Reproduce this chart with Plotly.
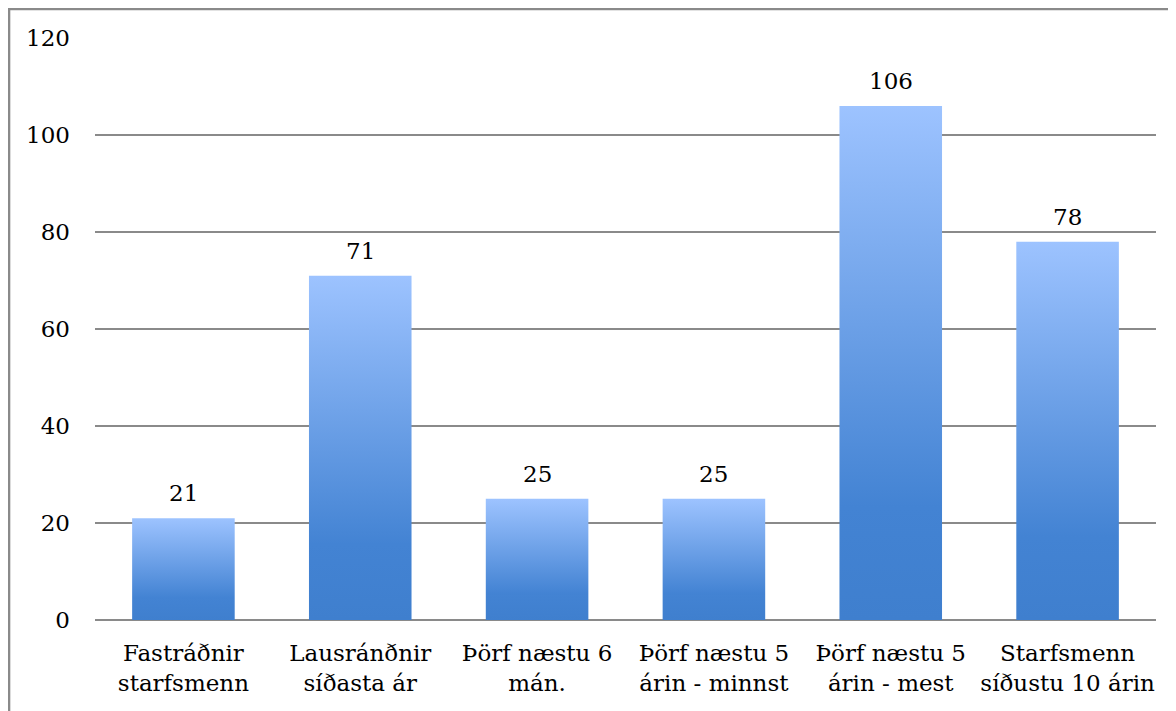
import plotly.graph_objs as go

categorias = [
    "Fastráðnir<br>starfsmenn",
    "Lausránðnir<br>síðasta ár",
    "Þörf næstu 6<br>mán.",
    "Þörf næstu 5<br>árin - minnst",
    "Þörf næstu 5<br>árin - mest",
    "Starfsmenn<br>síðustu 10 árin",
]
valores = [21, 71, 25, 25, 106, 78]
y_ticks = [0, 20, 40, 60, 80, 100, 120]

fuente = "DejaVu Serif"
tam = 23
gris = "#8a8a8a"
media_barra = 0.29
# degradado: oscuro abajo, claro arriba
escala = [[0, "#3f7fce"], [0.22, "#4383d3"], [1, "#9dc3ff"]]

fig = go.Figure()

# Cada barra como un rectangulo relleno con degradado vertical
for i, v in enumerate(valores):
    fig.add_trace(
        go.Scatter(
            x=[i - media_barra, i + media_barra, i + media_barra, i - media_barra, i - media_barra],
            y=[0, 0, v, v, 0],
            mode="lines",
            line=dict(width=0),
            fill="toself",
            fillgradient=dict(type="vertical", colorscale=escala),
            hoverinfo="skip",
            showlegend=False,
        )
    )

# Etiquetas de valores
for i, v in enumerate(valores):
    fig.add_annotation(
        x=i,
        y=v,
        text=str(v),
        showarrow=False,
        yanchor="bottom",
        yshift=10,
        font=dict(family=fuente, size=tam, color="black"),
    )

# Marco exterior (la pagina ya tiene 8px de margen)
fig.add_shape(
    type="rect",
    xref="paper",
    yref="paper",
    x0=-0.081,
    x1=1.1,
    y0=-0.5,
    y1=1.0498,
    line=dict(color=gris, width=2.5),
)

fig.update_layout(
    width=1168,
    height=703,
    margin=dict(l=87, r=20, t=30, b=91),
    plot_bgcolor="white",
    paper_bgcolor="white",
    font=dict(family=fuente, size=tam, color="black"),
    showlegend=False,
    xaxis=dict(
        range=[-0.5, len(valores) - 0.5],
        tickvals=list(range(len(valores))),
        ticktext=categorias,
        showgrid=False,
        zeroline=False,
        showline=False,
        ticks="",
        ticklabelstandoff=17,
        fixedrange=True,
    ),
    yaxis=dict(
        range=[0, 120],
        tickvals=y_ticks,
        showgrid=True,
        gridcolor=gris,
        gridwidth=2,
        zeroline=True,
        zerolinecolor=gris,
        zerolinewidth=2,
        showline=False,
        ticks="",
        ticklabelstandoff=24,
        fixedrange=True,
    ),
)

fig.write_html("out.html")
